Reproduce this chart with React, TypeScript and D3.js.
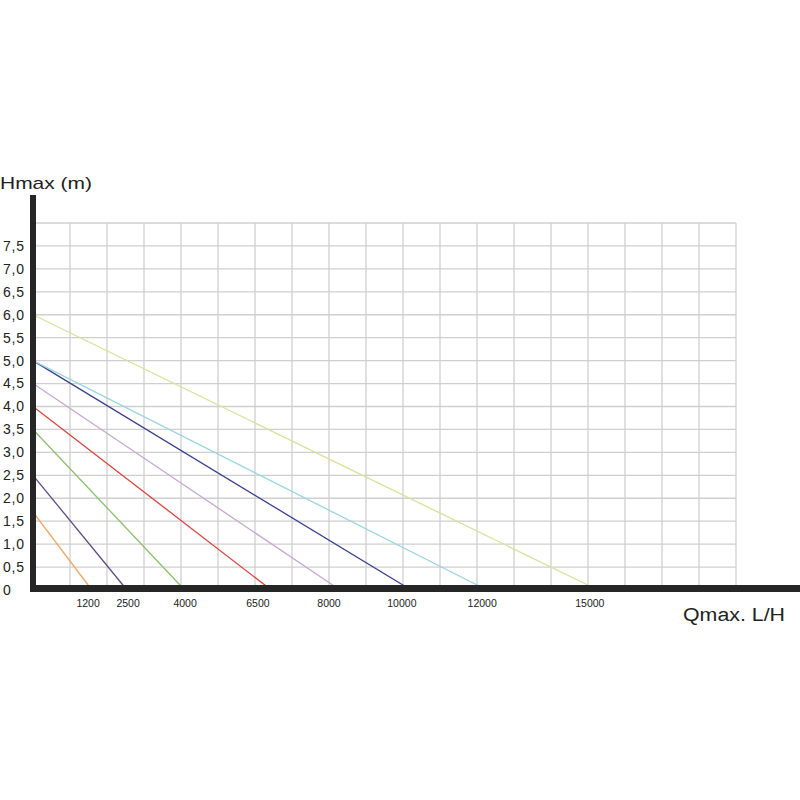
import React from "react";
import * as d3 from "d3";

// Pump curves: Hmax at zero flow (m) and flow at zero head (L/H, as drawn)
const seriesNames = ["1200", "2500", "4000", "6500", "8000", "10000", "12000", "15000"];
const headAtZero = [1.7, 2.5, 3.5, 4.0, 4.5, 5.0, 5.0, 6.0];
const flowAtZero = [1590, 2540, 4100, 6440, 8300, 10220, 12270, 15270];
const seriesColors = ["#f0a868", "#5a4a8a", "#8bbf6a", "#d9463f", "#c8a8d0", "#3a3f8c", "#9ad6e0", "#d4e39a"];

// X tick labels and where they sit (in L/H units of the drawn scale)
const xTickLabels = ["1200", "2500", "4000", "6500", "8000", "10000", "12000", "15000"];
const xTickAt = [1490, 2570, 4110, 6080, 8000, 9970, 12140, 15050];

// Y tick values
const yTicks = [0, 0.5, 1, 1.5, 2, 2.5, 3, 3.5, 4, 4.5, 5, 5.5, 6, 6.5, 7, 7.5];
const xGrid = d3.range(1000, 19001, 1000);
const yGrid = d3.range(0.5, 8.01, 0.5);

export default function App() {
  const x = d3.scaleLinear().domain([0, 19000]).range([33, 736]);
  const y = d3.scaleLinear().domain([0, 8]).range([590, 223]);
  const line = d3.line<[number, number]>().x(d => x(d[0])).y(d => y(d[1]));
  const fmt = (v: number) => (v === 0 ? "0" : v.toFixed(1).replace(".", ","));

  return (
    <svg width={800} height={800} style={{ position: "absolute", left: 0, top: 0, background: "#fff" }}
      fontFamily="Liberation Sans, Arial, sans-serif">
      <rect width={800} height={800} fill="#fff" />
      {/* grid */}
      {xGrid.map(v => (
        <line key={"gx" + v} x1={x(v)} x2={x(v)} y1={y(8)} y2={y(0)} stroke="#cfcfcf" strokeWidth={1.3} />
      ))}
      {yGrid.map(v => (
        <line key={"gy" + v} x1={x(0)} x2={x(19000)} y1={y(v)} y2={y(v)} stroke="#cfcfcf" strokeWidth={1.3} />
      ))}
      {/* curves */}
      {headAtZero.map((h, i) => (
        <path key={seriesNames[i]} d={line([[0, h], [flowAtZero[i], 0]]) || ""} fill="none"
          stroke={seriesColors[i]} strokeWidth={1.3} />
      ))}
      {/* axes */}
      <rect x={30} y={195} width={6} height={397} fill="#262626" />
      <rect x={30} y={585} width={770} height={7} fill="#262626" />
      {/* y tick labels */}
      {yTicks.map(v => (
        <text key={"yt" + v} x={3} y={y(v)} dy="0.35em" fontSize={14} letterSpacing={0.8} fill="#222">{fmt(v)}</text>
      ))}
      {/* x tick labels */}
      {xTickLabels.map((t, i) => (
        <text key={"xt" + t} x={x(xTickAt[i])} y={607} textAnchor="middle" fontSize={10.5} fill="#222">{t}</text>
      ))}
      <text x={0} y={189} fontSize={17} textLength={92} lengthAdjust="spacingAndGlyphs" fill="#222">Hmax (m)</text>
      <text x={683} y={621} fontSize={18} textLength={102} lengthAdjust="spacingAndGlyphs" fill="#222">Qmax. L/H</text>
    </svg>
  );
}
